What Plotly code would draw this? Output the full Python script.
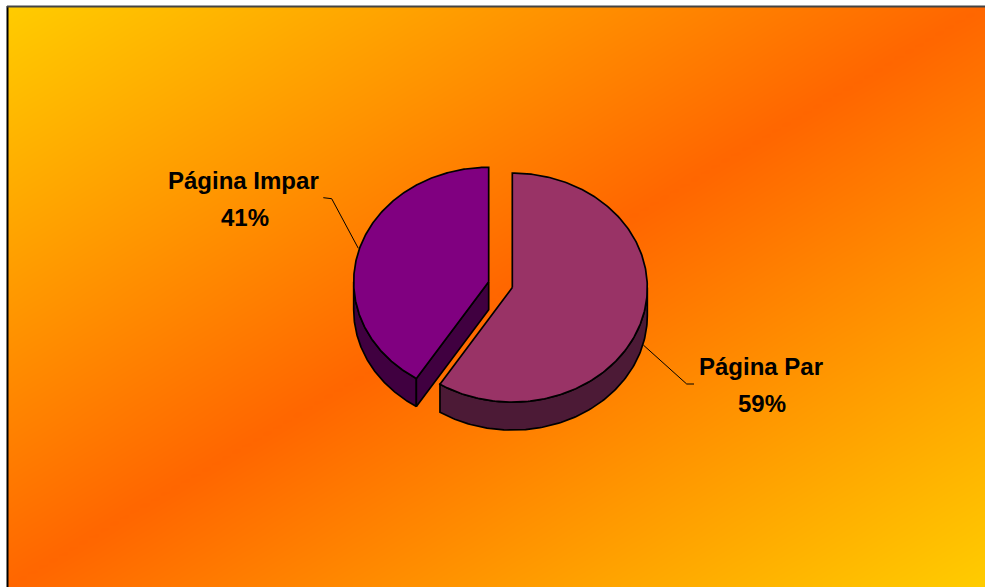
import numpy as np
import plotly.graph_objects as go

# ---- data ----
labels = ["Página Par", "Página Impar"]
values = [59, 41]
top_colors = ["#993366", "#800080"]
side_colors = ["#4C1A36", "#400040"]

# ---- layout constants (page pixels) ----
W, H = 985, 587
X0, Y0 = 7, 6               # chart-area origin (white strip outside)
CX, CY = 500.5, 284.7       # pie centre
RX, RY = 135.0, 114.5       # ellipse radii of the tilted pie
DEPTH = 28                  # thickness
EXPLODE = 12.3

total = float(sum(values))
fracs = [v / total for v in values]
starts = np.concatenate([[0.0], np.cumsum(fracs)[:-1]]) * 360.0
ends = starts + np.array(fracs) * 360.0


def ell(cx, cy, th, dz=0.0):
    t = np.radians(th)
    return cx + RX * np.sin(t), cy - RY * np.cos(t) + dz


fig = go.Figure()

# ---- gradient background (heatmap) ----
nx, ny = 160, 96
xe = np.linspace(X0, W, nx + 1)
ye = np.linspace(Y0, H, ny + 1)
xc = (xe[:-1] + xe[1:]) / 2
yc = (ye[:-1] + ye[1:]) / 2
XX, YY = np.meshgrid(xc, yc)
u = (XX - X0) / (W - X0) + (YY - Y0) / (H - Y0)
Z = 1 - np.abs(u - 1)
fig.add_trace(go.Heatmap(x=xe, y=ye, z=Z, zmin=0, zmax=1, zsmooth="best",
                         colorscale=[[0, "#FFCC00"], [1, "#FF6600"]],
                         showscale=False, hoverinfo="skip"))

centres = []
for s, e in zip(starts, ends):
    m = np.radians((s + e) / 2)
    centres.append((CX + EXPLODE * np.sin(m), CY - EXPLODE * np.cos(m) * RY / RX))

line = dict(color="black", width=1.7)

# ---- side walls and radial faces ----
for i, (s, e) in enumerate(zip(starts, ends)):
    cx, cy = centres[i]
    a, b = max(s, 90.0), min(e, 270.0)
    if b > a:
        th = np.linspace(a, b, 120)
        xt, yt = ell(cx, cy, th)
        xb, yb = ell(cx, cy, th[::-1], DEPTH)
        fig.add_trace(go.Scatter(x=np.concatenate([xt, xb, xt[:1]]),
                                 y=np.concatenate([yt, yb, yt[:1]]),
                                 mode="lines", fill="toself", fillcolor=side_colors[i],
                                 line=line, hoverinfo="skip", showlegend=False))
    for ang, vis in ((s, np.sin(np.radians(s)) < -1e-6), (e, np.sin(np.radians(e)) > 1e-6)):
        if vis:
            px, py = ell(cx, cy, ang)
            fig.add_trace(go.Scatter(x=[cx, px, px, cx, cx],
                                     y=[cy, py, py + DEPTH, cy + DEPTH, cy],
                                     mode="lines", fill="toself", fillcolor=side_colors[i],
                                     line=line, hoverinfo="skip", showlegend=False))

# ---- top faces ----
for i, (s, e) in enumerate(zip(starts, ends)):
    cx, cy = centres[i]
    th = np.linspace(s, e, 240)
    xt, yt = ell(cx, cy, th)
    fig.add_trace(go.Scatter(x=np.concatenate([[cx], xt, [cx]]),
                             y=np.concatenate([[cy], yt, [cy]]),
                             mode="lines", fill="toself", fillcolor=top_colors[i],
                             line=line, hoverinfo="skip", showlegend=False))

# ---- labels with leader lines ----
label_pos = {"Página Par": (761, 366, 762, 403), "Página Impar": (243, 180, 245, 217)}
leaders = {"Página Par": [(643.3, 345), (686.7, 384), (694, 384)],
           "Página Impar": [(358.3, 248.3), (331.7, 198.7), (323.3, 197.7)]}
font = dict(family="Liberation Sans, Arial, sans-serif", size=24, color="black")
for lab, v in zip(labels, values):
    x1, y1, x2, y2 = label_pos[lab]
    fig.add_annotation(x=x1, y=y1, text=f"<b>{lab}</b>", showarrow=False,
                       xanchor="center", yanchor="middle", font=font)
    fig.add_annotation(x=x2, y=y2, text=f"<b>{round(v / total * 100)}%</b>", showarrow=False,
                       xanchor="center", yanchor="middle", font=font)
    pts = leaders[lab]
    path = "M " + " L ".join(f"{px},{py}" for px, py in pts)
    fig.add_shape(type="path", path=path, line=dict(color="black", width=1))

# ---- border ----
fig.add_shape(type="line", x0=X0 + 0.5, y0=Y0, x1=X0 + 0.5, y1=H, line=dict(color="black", width=2))
fig.add_shape(type="line", x0=X0, y0=Y0 + 0.5, x1=W, y1=Y0 + 0.5, line=dict(color="#444444", width=2))

fig.update_layout(width=W, height=H, margin=dict(l=0, r=0, t=0, b=0),
                  paper_bgcolor="white", plot_bgcolor="white", showlegend=False,
                  xaxis=dict(range=[0, W], visible=False, fixedrange=True),
                  yaxis=dict(range=[H, 0], visible=False, fixedrange=True))

fig.write_html("out.html", config={"displayModeBar": False, "staticPlot": True},
               post_script="document.body.style.margin='0';document.body.style.overflow='hidden';")
